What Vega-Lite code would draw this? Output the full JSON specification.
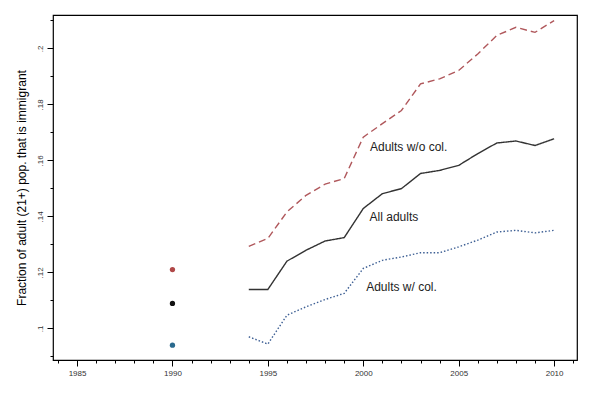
{
  "$schema": "https://vega.github.io/schema/vega-lite/v6.json",
  "width": 524,
  "height": 345,
  "autosize": {"type": "none"},
  "padding": {"left": 53, "top": 15, "right": 23, "bottom": 34},
  "background": "white",
  "config": {
    "font": "Liberation Sans",
    "view": {"stroke": "black", "strokeWidth": 1.2},
    "axis": {"labelOverlap": false}
  },
  "resolve": {"axis": {"x": "independent", "y": "independent"}},
  "datasets": {
    "series": [
      {"year": 1990, "series": "wo", "value": 0.1210},
      {"year": 1994, "series": "wo", "value": 0.1293},
      {"year": 1995, "series": "wo", "value": 0.1321},
      {"year": 1996, "series": "wo", "value": 0.1416},
      {"year": 1997, "series": "wo", "value": 0.1475},
      {"year": 1998, "series": "wo", "value": 0.1515},
      {"year": 1999, "series": "wo", "value": 0.1535},
      {"year": 2000, "series": "wo", "value": 0.1683},
      {"year": 2001, "series": "wo", "value": 0.1731},
      {"year": 2002, "series": "wo", "value": 0.1778},
      {"year": 2003, "series": "wo", "value": 0.1873},
      {"year": 2004, "series": "wo", "value": 0.1891},
      {"year": 2005, "series": "wo", "value": 0.1921},
      {"year": 2006, "series": "wo", "value": 0.1980},
      {"year": 2007, "series": "wo", "value": 0.2046},
      {"year": 2008, "series": "wo", "value": 0.2075},
      {"year": 2009, "series": "wo", "value": 0.2057},
      {"year": 2010, "series": "wo", "value": 0.2099},
      {"year": 1990, "series": "all", "value": 0.1089},
      {"year": 1994, "series": "all", "value": 0.1139},
      {"year": 1995, "series": "all", "value": 0.1139},
      {"year": 1996, "series": "all", "value": 0.1240},
      {"year": 1997, "series": "all", "value": 0.1279},
      {"year": 1998, "series": "all", "value": 0.1312},
      {"year": 1999, "series": "all", "value": 0.1324},
      {"year": 2000, "series": "all", "value": 0.1428},
      {"year": 2001, "series": "all", "value": 0.1481},
      {"year": 2002, "series": "all", "value": 0.1499},
      {"year": 2003, "series": "all", "value": 0.1553},
      {"year": 2004, "series": "all", "value": 0.1564},
      {"year": 2005, "series": "all", "value": 0.1582},
      {"year": 2006, "series": "all", "value": 0.1624},
      {"year": 2007, "series": "all", "value": 0.1662},
      {"year": 2008, "series": "all", "value": 0.1669},
      {"year": 2009, "series": "all", "value": 0.1653},
      {"year": 2010, "series": "all", "value": 0.1677},
      {"year": 1990, "series": "w", "value": 0.0940},
      {"year": 1994, "series": "w", "value": 0.0970},
      {"year": 1995, "series": "w", "value": 0.0944},
      {"year": 1996, "series": "w", "value": 0.1047},
      {"year": 1997, "series": "w", "value": 0.1077},
      {"year": 1998, "series": "w", "value": 0.1103},
      {"year": 1999, "series": "w", "value": 0.1125},
      {"year": 2000, "series": "w", "value": 0.1214},
      {"year": 2001, "series": "w", "value": 0.1243},
      {"year": 2002, "series": "w", "value": 0.1255},
      {"year": 2003, "series": "w", "value": 0.1270},
      {"year": 2004, "series": "w", "value": 0.1270},
      {"year": 2005, "series": "w", "value": 0.1291},
      {"year": 2006, "series": "w", "value": 0.1315},
      {"year": 2007, "series": "w", "value": 0.1344},
      {"year": 2008, "series": "w", "value": 0.1350},
      {"year": 2009, "series": "w", "value": 0.1341},
      {"year": 2010, "series": "w", "value": 0.1350}
    ],
    "labels": [
      {"year": 2000.35, "value": 0.1647, "text": "Adults w/o col."},
      {"year": 2000.33, "value": 0.1398, "text": "All adults"},
      {"year": 2000.15, "value": 0.1146, "text": "Adults w/ col."}
    ]
  },
  "layer": [
    {
      "data": {"name": "series"},
      "transform": [{"filter": "datum.year >= 1994"}],
      "mark": {"type": "line", "strokeWidth": 1.4},
      "encoding": {
        "x": {
          "field": "year", "type": "quantitative",
          "scale": {"domain": [1983.74, 2011.2], "nice": false, "zero": false},
          "axis": {
            "orient": "bottom",
            "title": null,
            "values": [1985, 1990, 1995, 2000, 2005, 2010],
            "format": "d",
            "grid": false,
            "domain": false,
            "tickColor": "black",
            "tickSize": 6,
            "labelFontSize": 8,
            "labelColor": "#333",
            "labelPadding": 3,
            "labelFlush": false
          }
        },
        "y": {
          "field": "value", "type": "quantitative",
          "scale": {"domain": [0.0887, 0.2119], "nice": false, "zero": false},
          "axis": {
            "orient": "left",
            "title": "Fraction of adult (21+) pop. that is immigrant",
            "titleFontSize": 12,
            "titleFontWeight": "normal",
            "titleColor": "black",
            "titlePadding": 8,
            "values": [0.1, 0.12, 0.14, 0.16, 0.18, 0.2],
            "labelExpr": "replace(datum.label, '0.', '.')",
            "format": ".2~f",
            "labelAngle": -90,
            "labelAlign": "center",
            "labelBaseline": "bottom",
            "labelFontSize": 8,
            "labelColor": "#333",
            "labelPadding": 3,
            "labelFlush": false,
            "grid": false,
            "domain": false,
            "tickColor": "black",
            "tickSize": 6
          }
        },
        "color": {
          "field": "series", "type": "nominal", "legend": null,
          "scale": {"domain": ["wo", "all", "w"], "range": ["#b0585c", "#333333", "#3d5f94"]}
        },
        "strokeDash": {
          "field": "series", "type": "nominal", "legend": null,
          "scale": {"domain": ["wo", "all", "w"], "range": [[7, 4], [1, 0], [1.5, 2]]}
        }
      }
    },
    {
      "data": {"name": "series"},
      "transform": [{"filter": "datum.year === 1990"}],
      "mark": {"type": "point", "filled": true, "size": 28, "opacity": 1},
      "encoding": {
        "x": {
          "field": "year", "type": "quantitative",
          "axis": {
            "orient": "bottom", "title": null, "labels": false, "grid": false, "domain": false,
            "tickColor": "black", "tickSize": 3,
            "values": [1984, 1986, 1987, 1988, 1989, 1991, 1992, 1993, 1994, 1996, 1997, 1998, 1999, 2001, 2002, 2003, 2004, 2006, 2007, 2008, 2009, 2011]
          }
        },
        "y": {
          "field": "value", "type": "quantitative",
          "axis": {
            "orient": "left", "title": null, "labels": false, "grid": false, "domain": false,
            "tickColor": "black", "tickSize": 3,
            "values": [0.09, 0.11, 0.13, 0.15, 0.17, 0.19, 0.21]
          }
        },
        "fill": {
          "field": "series", "type": "nominal", "legend": null,
          "scale": {"domain": ["wo", "all", "w"], "range": ["#b04848", "#111111", "#2a6a8e"]}
        }
      }
    },
    {
      "data": {"name": "labels"},
      "mark": {"type": "text", "align": "left", "baseline": "middle", "fontSize": 12, "color": "#222"},
      "encoding": {
        "x": {"field": "year", "type": "quantitative", "axis": null},
        "y": {"field": "value", "type": "quantitative", "axis": null},
        "text": {"field": "text"}
      }
    }
  ]
}
